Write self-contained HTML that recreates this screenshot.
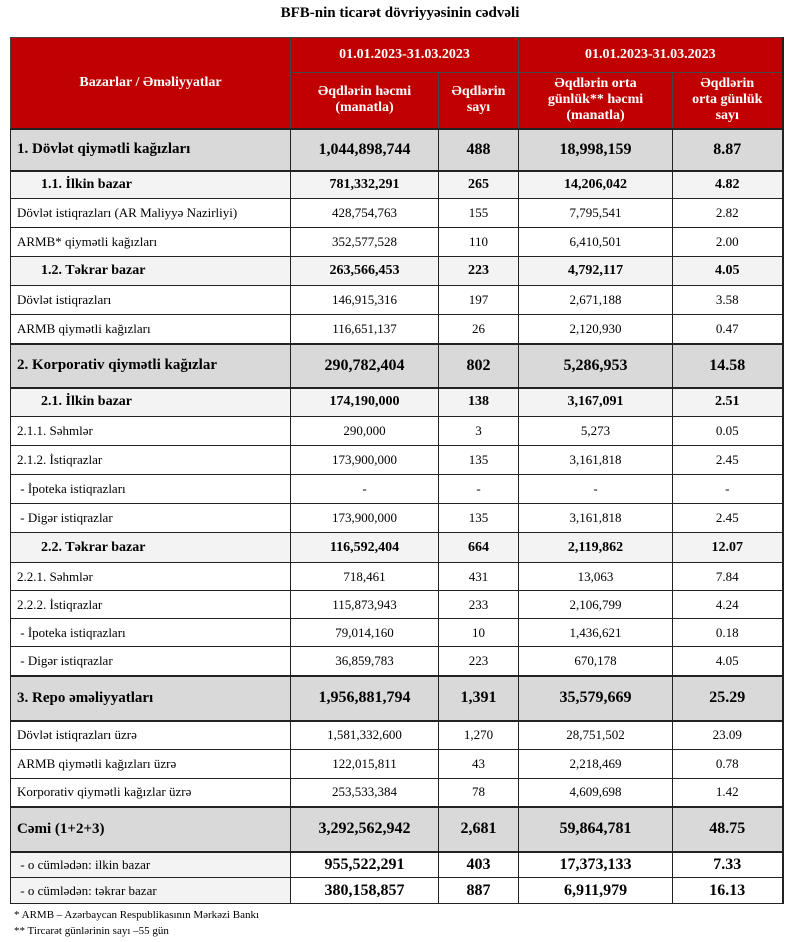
<!DOCTYPE html>
<html><head><meta charset="utf-8"><style>
body{margin:0;background:#fff;width:800px;height:942px;overflow:hidden;font-family:"Liberation Serif",serif;}
.title{position:absolute;top:5px;left:0;width:800px;text-align:center;font-weight:bold;font-size:15px;}
table{position:absolute;left:10px;top:37px;border-collapse:collapse;table-layout:fixed;width:772px;border-right:2px solid #222;}
td{border:1px solid #222;padding:0 6px;font-size:13px;text-align:center;white-space:nowrap;overflow:hidden;}
td:first-child{text-align:left;}
.h td{background:#c00000;color:#fff;font-weight:bold;font-size:14px;line-height:16px;border-color:#444;}
.h td:first-child{text-align:center;}
.g td{background:#d9d9d9;font-weight:bold;font-size:16px;border-top:2px solid #222;border-bottom:2px solid #222;}
.g td:first-child{font-size:15px;}
.s td{background:#f3f3f3;font-weight:bold;font-size:14px;}
.s td:first-child{padding-left:30px;}
.c td{font-weight:bold;font-size:16px;}
.c td:first-child{background:#f3f3f3;font-weight:normal;font-size:13px;}
.fn{position:absolute;left:14px;font-size:11px;}
</style></head><body>
<div class="title">BFB-nin ticarət dövriyyəsinin cədvəli</div>
<table>
<colgroup><col style="width:280px"><col style="width:148px"><col style="width:80px"><col style="width:154px"><col style="width:110px"></colgroup>
<tr class="h" style="height:35px"><td rowspan="2">Bazarlar / Əməliyyatlar</td><td colspan="2">01.01.2023-31.03.2023</td><td colspan="2">01.01.2023-31.03.2023</td></tr>
<tr class="h" style="height:56px"><td>Əqdlərin həcmi<br>(manatla)</td><td>Əqdlərin<br>sayı</td><td>Əqdlərin orta<br>günlük** həcmi<br>(manatla)</td><td>Əqdlərin<br>orta günlük<br>sayı</td></tr>
<tr class="g" style="height:42px"><td>1. Dövlət qiymətli kağızları</td><td>1,044,898,744</td><td>488</td><td>18,998,159</td><td>8.87</td></tr>
<tr class="s" style="height:28px"><td>1.1. İlkin bazar</td><td>781,332,291</td><td>265</td><td>14,206,042</td><td>4.82</td></tr>
<tr style="height:29px"><td>Dövlət istiqrazları (AR Maliyyə Nazirliyi)</td><td>428,754,763</td><td>155</td><td>7,795,541</td><td>2.82</td></tr>
<tr style="height:29px"><td>ARMB* qiymətli kağızları</td><td>352,577,528</td><td>110</td><td>6,410,501</td><td>2.00</td></tr>
<tr class="s" style="height:29px"><td>1.2. Təkrar bazar</td><td>263,566,453</td><td>223</td><td>4,792,117</td><td>4.05</td></tr>
<tr style="height:29px"><td>Dövlət istiqrazları</td><td>146,915,316</td><td>197</td><td>2,671,188</td><td>3.58</td></tr>
<tr style="height:29px"><td>ARMB qiymətli kağızları</td><td>116,651,137</td><td>26</td><td>2,120,930</td><td>0.47</td></tr>
<tr class="g" style="height:44px"><td>2. Korporativ qiymətli kağızlar</td><td>290,782,404</td><td>802</td><td>5,286,953</td><td>14.58</td></tr>
<tr class="s" style="height:29px"><td>2.1. İlkin bazar</td><td>174,190,000</td><td>138</td><td>3,167,091</td><td>2.51</td></tr>
<tr style="height:29px"><td>2.1.1. Səhmlər</td><td>290,000</td><td>3</td><td>5,273</td><td>0.05</td></tr>
<tr style="height:29px"><td>2.1.2. İstiqrazlar</td><td>173,900,000</td><td>135</td><td>3,161,818</td><td>2.45</td></tr>
<tr style="height:29px"><td>&nbsp;- İpoteka istiqrazları</td><td>-</td><td>-</td><td>-</td><td>-</td></tr>
<tr style="height:29px"><td>&nbsp;- Digər istiqrazlar</td><td>173,900,000</td><td>135</td><td>3,161,818</td><td>2.45</td></tr>
<tr class="s" style="height:30px"><td>2.2. Təkrar bazar</td><td>116,592,404</td><td>664</td><td>2,119,862</td><td>12.07</td></tr>
<tr style="height:28px"><td>2.2.1. Səhmlər</td><td>718,461</td><td>431</td><td>13,063</td><td>7.84</td></tr>
<tr style="height:28px"><td>2.2.2. İstiqrazlar</td><td>115,873,943</td><td>233</td><td>2,106,799</td><td>4.24</td></tr>
<tr style="height:28px"><td>&nbsp;- İpoteka istiqrazları</td><td>79,014,160</td><td>10</td><td>1,436,621</td><td>0.18</td></tr>
<tr style="height:29px"><td>&nbsp;- Digər istiqrazlar</td><td>36,859,783</td><td>223</td><td>670,178</td><td>4.05</td></tr>
<tr class="g" style="height:45px"><td>3. Repo əməliyyatları</td><td>1,956,881,794</td><td>1,391</td><td>35,579,669</td><td>25.29</td></tr>
<tr style="height:29px"><td>Dövlət istiqrazları üzrə</td><td>1,581,332,600</td><td>1,270</td><td>28,751,502</td><td>23.09</td></tr>
<tr style="height:29px"><td>ARMB qiymətli kağızları üzrə</td><td>122,015,811</td><td>43</td><td>2,218,469</td><td>0.78</td></tr>
<tr style="height:28px"><td>Korporativ qiymətli kağızlar üzrə</td><td>253,533,384</td><td>78</td><td>4,609,698</td><td>1.42</td></tr>
<tr class="g" style="height:45px"><td>Cəmi (1+2+3)</td><td>3,292,562,942</td><td>2,681</td><td>59,864,781</td><td>48.75</td></tr>
<tr class="c" style="height:26px"><td>&nbsp;- o cümlədən: ilkin bazar</td><td>955,522,291</td><td>403</td><td>17,373,133</td><td>7.33</td></tr>
<tr class="c" style="height:26px"><td>&nbsp;- o cümlədən: təkrar bazar</td><td>380,158,857</td><td>887</td><td>6,911,979</td><td>16.13</td></tr>
</table>
<div class="fn" style="top:909px">* ARMB – Azərbaycan Respublikasının Mərkəzi Bankı</div>
<div class="fn" style="top:925px">** Tircarət günlərinin sayı –55 gün</div>
</body></html>
